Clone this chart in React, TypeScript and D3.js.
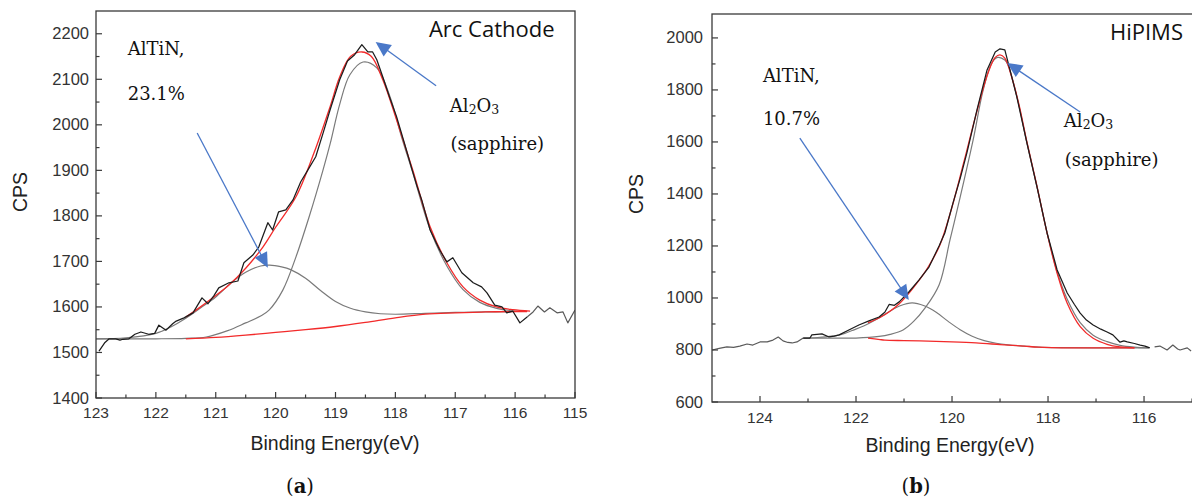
import React from "react";
import * as d3 from "d3";

type P = [number, number];

// ---------- Panel (a): Arc Cathode ----------
const arcXTicks = [123, 122, 121, 120, 119, 118, 117, 116, 115];
const arcYTicks = [1400, 1500, 1600, 1700, 1800, 1900, 2000, 2100, 2200];

const arcRaw: P[] = [
  [122.95, 1503], [122.85, 1522], [122.78, 1530], [122.67, 1530], [122.6, 1527], [122.55, 1529],
  [122.45, 1530], [122.35, 1540], [122.25, 1545], [122.12, 1540], [122.02, 1542], [121.95, 1560],
  [121.83, 1549], [121.72, 1563], [121.66, 1569], [121.53, 1576], [121.38, 1587], [121.23, 1620],
  [121.13, 1607], [121.03, 1625], [120.95, 1642], [120.78, 1653], [120.63, 1657], [120.53, 1697],
  [120.38, 1714], [120.28, 1732], [120.13, 1785], [120.05, 1769], [119.95, 1809], [119.83, 1813],
  [119.71, 1835], [119.58, 1875], [119.46, 1901], [119.33, 1930], [119.2, 1985], [119.09, 2033],
  [118.93, 2099], [118.8, 2140], [118.68, 2154], [118.56, 2176], [118.46, 2160], [118.38, 2160],
  [118.31, 2143], [118.21, 2105], [118.1, 2062], [117.98, 2018], [117.85, 1960], [117.72, 1901],
  [117.64, 1866], [117.56, 1835], [117.42, 1769], [117.26, 1725], [117.14, 1699], [117.04, 1708],
  [116.89, 1675], [116.7, 1653], [116.56, 1644], [116.47, 1631], [116.34, 1604], [116.22, 1600],
  [116.14, 1587], [116.04, 1591], [115.92, 1565], [115.8, 1578], [115.7, 1589], [115.62, 1602],
  [115.51, 1589], [115.42, 1598], [115.3, 1587], [115.2, 1589], [115.12, 1565], [115.0, 1593],
];
const arcBackground: P[] = [
  [121.5, 1530], [121, 1533], [120.5, 1538], [120, 1544], [119.5, 1550], [119, 1557],
  [118.5, 1566], [118, 1576], [117.5, 1584], [117, 1587], [116.5, 1589], [116, 1590], [115.8, 1590],
];
const arcAlTiN: P[] = [
  [123, 1530], [122.5, 1532], [122, 1542], [121.75, 1556], [121.5, 1575], [121.25, 1598],
  [121, 1622], [120.75, 1652], [120.5, 1676], [120.25, 1690], [120.1, 1692], [119.9, 1688],
  [119.75, 1682], [119.5, 1663], [119.25, 1636], [119, 1612], [118.75, 1597], [118.5, 1589],
  [118.25, 1585], [118, 1584], [117.5, 1586], [117, 1588], [116.5, 1589], [116, 1590], [115.8, 1590],
];
const arcAl2O3: P[] = [
  [123, 1530], [122, 1530], [121.5, 1531], [121.16, 1534], [120.8, 1548], [120.5, 1565],
  [120.25, 1580], [120.11, 1593], [119.88, 1637], [119.66, 1710], [119.44, 1798], [119.21, 1900],
  [119.09, 1958], [118.93, 2045], [118.76, 2110], [118.54, 2138], [118.31, 2125], [118.09, 2062],
  [117.9, 1975], [117.71, 1895], [117.42, 1770], [117.14, 1690], [116.87, 1638], [116.59, 1610],
  [116.31, 1597], [116, 1591], [115.8, 1590],
];
const arcFit: P[] = [
  [121.5, 1578], [121.33, 1593], [121, 1625], [120.78, 1648], [120.5, 1685], [120.21, 1732],
  [120, 1775], [119.66, 1842], [119.36, 1938], [119.09, 2040], [118.93, 2105], [118.75, 2150],
  [118.56, 2160], [118.4, 2150], [118.21, 2099], [117.98, 2011], [117.71, 1901], [117.42, 1776],
  [117.14, 1697], [116.87, 1644], [116.59, 1615], [116.31, 1600], [116.04, 1594], [115.75, 1591],
];

// ---------- Panel (b): HiPIMS ----------
const hipXTicks = [124, 122, 120, 118, 116];
const hipYTicks = [600, 800, 1000, 1200, 1400, 1600, 1800, 2000];

const hipRaw: P[] = [
  [125, 800], [124.85, 806], [124.69, 812], [124.55, 810], [124.42, 815], [124.27, 823],
  [124.15, 819], [124.0, 831], [123.85, 831], [123.73, 838], [123.62, 850], [123.52, 835],
  [123.42, 829], [123.33, 827], [123.23, 831], [123.1, 846], [122.96, 846], [122.92, 858],
  [122.71, 862], [122.56, 850], [122.45, 853], [122.35, 858], [122.15, 877], [121.94, 896],
  [121.73, 912], [121.52, 927], [121.4, 945], [121.31, 975], [121.2, 972], [121.1, 985],
  [120.9, 1023], [120.69, 1069], [120.48, 1119], [120.27, 1200], [120.15, 1250], [119.98, 1365],
  [119.83, 1460], [119.69, 1558], [119.48, 1723], [119.27, 1877], [119.1, 1946], [119.0, 1958],
  [118.9, 1954], [118.83, 1904], [118.65, 1773], [118.44, 1596], [118.23, 1427], [118.02, 1250],
  [117.81, 1108], [117.6, 1019], [117.45, 975], [117.33, 942], [117.2, 915], [117.06, 896],
  [116.9, 880], [116.77, 869], [116.65, 858], [116.5, 830], [116.42, 835], [116.35, 831],
  [116.2, 825], [116.08, 819], [115.98, 815], [115.88, 808], [115.78, 812], [115.67, 815],
  [115.52, 800], [115.4, 819], [115.3, 804], [115.25, 800], [115.1, 808], [115.02, 796],
];
const hipBackground: P[] = [
  [121.75, 846], [121.5, 840], [121.4, 838], [121, 836], [120.5, 834], [120, 831], [119.5, 827],
  [119, 821], [118.5, 815], [118.2, 811], [117.5, 808], [117, 808], [116.2, 808],
];
const hipAlTiN: P[] = [
  [123.1, 846], [122.8, 848], [122.5, 853], [122.3, 860], [122.08, 875], [121.83, 893],
  [121.58, 917], [121.33, 945], [121.08, 970], [120.83, 981], [120.58, 970], [120.33, 945],
  [120.08, 910], [119.83, 878], [119.58, 853], [119.33, 836], [119.08, 826], [118.83, 820],
  [118.5, 815], [118.2, 811], [117.8, 809], [117, 808], [115.9, 808],
];
const hipAl2O3: P[] = [
  [123.1, 846], [122.5, 846], [122, 846], [121.52, 852], [121.29, 860], [121.02, 877],
  [120.8, 910], [120.56, 962], [120.27, 1050], [120.04, 1225], [119.83, 1388], [119.56, 1608],
  [119.35, 1800], [119.17, 1904], [119.05, 1925], [118.9, 1915], [118.83, 1895], [118.65, 1775],
  [118.44, 1596], [118.23, 1427], [118.02, 1250], [117.81, 1100], [117.6, 995], [117.33, 905],
  [117.06, 857], [116.77, 832], [116.5, 818], [116.2, 811], [115.9, 808],
];
const hipFit: P[] = [
  [121.75, 905], [121.5, 925], [121.3, 948], [121.1, 978], [120.9, 1018], [120.7, 1065],
  [120.5, 1118], [120.25, 1205], [120.0, 1350], [119.75, 1525], [119.5, 1705], [119.25, 1865],
  [119.1, 1925], [119.0, 1935], [118.9, 1922], [118.75, 1845], [118.6, 1740], [118.44, 1600],
  [118.23, 1430], [118.02, 1250], [117.81, 1095], [117.6, 980], [117.33, 890], [117.06, 845],
  [116.77, 822], [116.5, 812], [116.2, 808],
];

const RED = "#f22a2a";
const GRAY = "#7a7a7a";
const BLACK = "#1c1c1c";
const BLUE = "#4a78c8";
const AXIS = "#3a3a3a";
const SANS = "'Liberation Sans', Arial, sans-serif";
const SERIF = "'DejaVu Serif', serif";

type Note = { text: string; e: number; c: number; sub?: boolean };
type ArrowDef = { from: P; to: P };

interface PanelCfg {
  id: string;
  left: number;
  right: number;
  top: number;
  bottom: number;
  xDomain: [number, number];
  yDomain: [number, number];
  xTicks: number[];
  xMinor: number[];
  yTicks: number[];
  yMinor: number[];
  raw: P[];
  rawCore: [number, number];
  background: P[];
  comps: P[][];
  fit: P[];
  title: { text: string; e: number; c: number };
  notes: Note[];
  arrows: ArrowDef[];
  xLabelX: number;
  xLabelY: number;
  yLabelX: number;
  yLabelY: number;
  tagX: number;
  tagLetter: string;
  xTickBaseline: number;
  yTickRight: number;
}

function Arrow({ x1, y1, x2, y2 }: { x1: number; y1: number; x2: number; y2: number }) {
  const dx = x2 - x1;
  const dy = y2 - y1;
  const len = Math.hypot(dx, dy);
  const ux = dx / len;
  const uy = dy / len;
  const hl = 15;
  const hw = 7;
  const bx = x2 - ux * hl;
  const by = y2 - uy * hl;
  const pts = [
    [x2, y2],
    [bx - uy * hw, by + ux * hw],
    [bx + uy * hw, by - ux * hw],
  ]
    .map((p) => p.join(","))
    .join(" ");
  return (
    <g>
      <line x1={x1} y1={y1} x2={bx + ux * 2} y2={by + uy * 2} stroke={BLUE} strokeWidth={1.3} />
      <polygon points={pts} fill={BLUE} />
    </g>
  );
}

function Panel({ cfg }: { cfg: PanelCfg }) {
  const x = d3.scaleLinear().domain(cfg.xDomain).range([cfg.left, cfg.right]);
  const y = d3.scaleLinear().domain(cfg.yDomain).range([cfg.bottom, cfg.top]);
  const smooth = d3
    .line<P>()
    .x((d) => x(d[0]))
    .y((d) => y(d[1]))
    .curve(d3.curveCatmullRom.alpha(0.5));
  const straight = d3
    .line<P>()
    .x((d) => x(d[0]))
    .y((d) => y(d[1]));
  const [coreHi, coreLo] = cfg.rawCore;
  const core = cfg.raw.filter((d) => d[0] <= coreHi && d[0] >= coreLo);
  const leftTail = cfg.raw.filter((d) => d[0] >= coreHi);
  const rightTail = cfg.raw.filter((d) => d[0] <= coreLo);
  const clip = `clip-${cfg.id}`;
  return (
    <g>
      <defs>
        <clipPath id={clip}>
          <rect x={cfg.left} y={cfg.top} width={cfg.right - cfg.left} height={cfg.bottom - cfg.top} />
        </clipPath>
      </defs>
      <g clipPath={`url(#${clip})`} fill="none" strokeLinejoin="round">
        {cfg.comps.map((c, i) => (
          <path key={i} d={smooth(c) || ""} stroke={GRAY} strokeWidth={1.2} />
        ))}
        <path d={smooth(cfg.background) || ""} stroke={RED} strokeWidth={1.3} />
        <path d={smooth(cfg.fit) || ""} stroke={RED} strokeWidth={1.3} />
        <path d={straight(leftTail) || ""} stroke="#5a5a5a" strokeWidth={1.2} />
        <path d={straight(rightTail) || ""} stroke="#5a5a5a" strokeWidth={1.2} />
        <path d={straight(core) || ""} stroke={BLACK} strokeWidth={1.25} />
      </g>
      <rect
        x={cfg.left}
        y={cfg.top}
        width={cfg.right - cfg.left}
        height={cfg.bottom - cfg.top}
        fill="none"
        stroke={AXIS}
        strokeWidth={1.3}
      />
      {cfg.xTicks.map((t) => (
        <g key={`xt${t}`}>
          <line x1={x(t)} x2={x(t)} y1={cfg.bottom} y2={cfg.bottom - 6} stroke={AXIS} strokeWidth={1.2} />
          <text x={x(t)} y={cfg.xTickBaseline} textAnchor="middle" fontFamily={SANS} fontSize={15.5} fill="#333">
            {t}
          </text>
        </g>
      ))}
      {cfg.xMinor.map((t) => (
        <line key={`xm${t}`} x1={x(t)} x2={x(t)} y1={cfg.bottom} y2={cfg.bottom - 3.5} stroke={AXIS} strokeWidth={1.2} />
      ))}
      {cfg.yTicks.map((t) => (
        <g key={`yt${t}`}>
          <line x1={cfg.left} x2={cfg.left + 6} y1={y(t)} y2={y(t)} stroke={AXIS} strokeWidth={1.2} />
          <text x={cfg.yTickRight} y={y(t) + 5.5} textAnchor="end" fontFamily={SANS} fontSize={16.5} fill="#333">
            {t}
          </text>
        </g>
      ))}
      {cfg.yMinor.map((t) => (
        <line key={`ym${t}`} x1={cfg.left} x2={cfg.left + 3.5} y1={y(t)} y2={y(t)} stroke={AXIS} strokeWidth={1.2} />
      ))}
      <text x={cfg.xLabelX} y={cfg.xLabelY} textAnchor="middle" fontFamily={SANS} fontSize={19.5} fill="#222">
        Binding Energy(eV)
      </text>
      <text
        transform={`translate(${cfg.yLabelX},${cfg.yLabelY}) rotate(-90)`}
        textAnchor="middle"
        fontFamily={SANS}
        fontSize={19.5}
        fill="#222"
      >
        CPS
      </text>
      <text x={x(cfg.title.e)} y={y(cfg.title.c)} fontFamily="'Open Sans', sans-serif" fontSize={22} fill="#111">
        {cfg.title.text}
      </text>
      {cfg.notes.map((n, i) =>
        n.sub ? (
          <text key={i} x={x(n.e)} y={y(n.c)} fontFamily={SERIF} fontSize={18} fill="#111">
            Al
            <tspan fontSize={12.5} dy={2}>2</tspan>
            <tspan dy={-2}>O</tspan>
            <tspan fontSize={12.5} dy={2}>3</tspan>
          </text>
        ) : (
          <text key={i} x={x(n.e)} y={y(n.c)} fontFamily={SERIF} fontSize={18} fill="#111">
            {n.text}
          </text>
        )
      )}
      {cfg.arrows.map((a, i) => (
        <Arrow key={i} x1={x(a.from[0])} y1={y(a.from[1])} x2={x(a.to[0])} y2={y(a.to[1])} />
      ))}
      <text x={cfg.tagX} y={493} textAnchor="middle" fontFamily={SERIF} fontSize={19.5} fill="#111">
        (<tspan fontWeight="bold">{cfg.tagLetter}</tspan>)
      </text>
    </g>
  );
}

const arcCfg: PanelCfg = {
  id: "a",
  left: 96,
  right: 575,
  top: 11,
  bottom: 398,
  xDomain: [123, 115],
  yDomain: [1400, 2250],
  xTicks: arcXTicks,
  xMinor: [122.5, 121.5, 120.5, 119.5, 118.5, 117.5, 116.5, 115.5],
  yTicks: arcYTicks,
  yMinor: [1450, 1550, 1650, 1750, 1850, 1950, 2050, 2150],
  raw: arcRaw,
  rawCore: [123, 115.8],
  background: arcBackground,
  comps: [arcAlTiN, arcAl2O3],
  fit: arcFit,
  title: { text: "Arc Cathode", e: 117.44, c: 2193 },
  notes: [
    { text: "AlTiN,", e: 122.47, c: 2154 },
    { text: "23.1%", e: 122.47, c: 2055 },
    { text: "Al2O3", e: 117.09, c: 2029, sub: true },
    { text: "(sapphire)", e: 117.08, c: 1945 },
  ],
  arrows: [
    { from: [121.31, 1982], to: [120.13, 1686] },
    { from: [117.32, 2086], to: [118.33, 2182] },
  ],
  xLabelX: 335,
  xLabelY: 450,
  yLabelX: 27,
  yLabelY: 192,
  tagX: 300,
  tagLetter: "a",
  xTickBaseline: 418,
  yTickRight: 89,
};

const hipCfg: PanelCfg = {
  id: "b",
  left: 712,
  right: 1193,
  top: 14,
  bottom: 402,
  xDomain: [125, 114.98],
  yDomain: [600, 2092],
  xTicks: hipXTicks,
  xMinor: [123, 121, 119, 117, 115],
  yTicks: hipYTicks,
  yMinor: [700, 900, 1100, 1300, 1500, 1700, 1900],
  raw: hipRaw,
  rawCore: [123.1, 115.85],
  background: hipBackground,
  comps: [hipAlTiN, hipAl2O3],
  fit: hipFit,
  title: { text: "HiPIMS", e: 116.71, c: 1992 },
  notes: [
    { text: "AlTiN,", e: 123.94, c: 1831 },
    { text: "10.7%", e: 123.94, c: 1665 },
    { text: "Al2O3", e: 117.67, c: 1658, sub: true },
    { text: "(sapphire)", e: 117.65, c: 1508 },
  ],
  arrows: [
    { from: [123.17, 1615], to: [120.9, 992] },
    { from: [117.33, 1715], to: [118.85, 1904] },
  ],
  xLabelX: 950,
  xLabelY: 452,
  yLabelX: 643,
  yLabelY: 194,
  tagX: 916,
  tagLetter: "b",
  xTickBaseline: 423,
  yTickRight: 703,
};

export default function App() {
  return (
    <div style={{ position: "absolute", left: 0, top: 0, width: 1192, height: 501, background: "#fff" }}>
      <svg width={1192} height={501} viewBox="0 0 1192 501" style={{ display: "block" }}>
        <rect x={0} y={0} width={1192} height={501} fill="#fff" />
        <Panel cfg={arcCfg} />
        <Panel cfg={hipCfg} />
      </svg>
    </div>
  );
}
